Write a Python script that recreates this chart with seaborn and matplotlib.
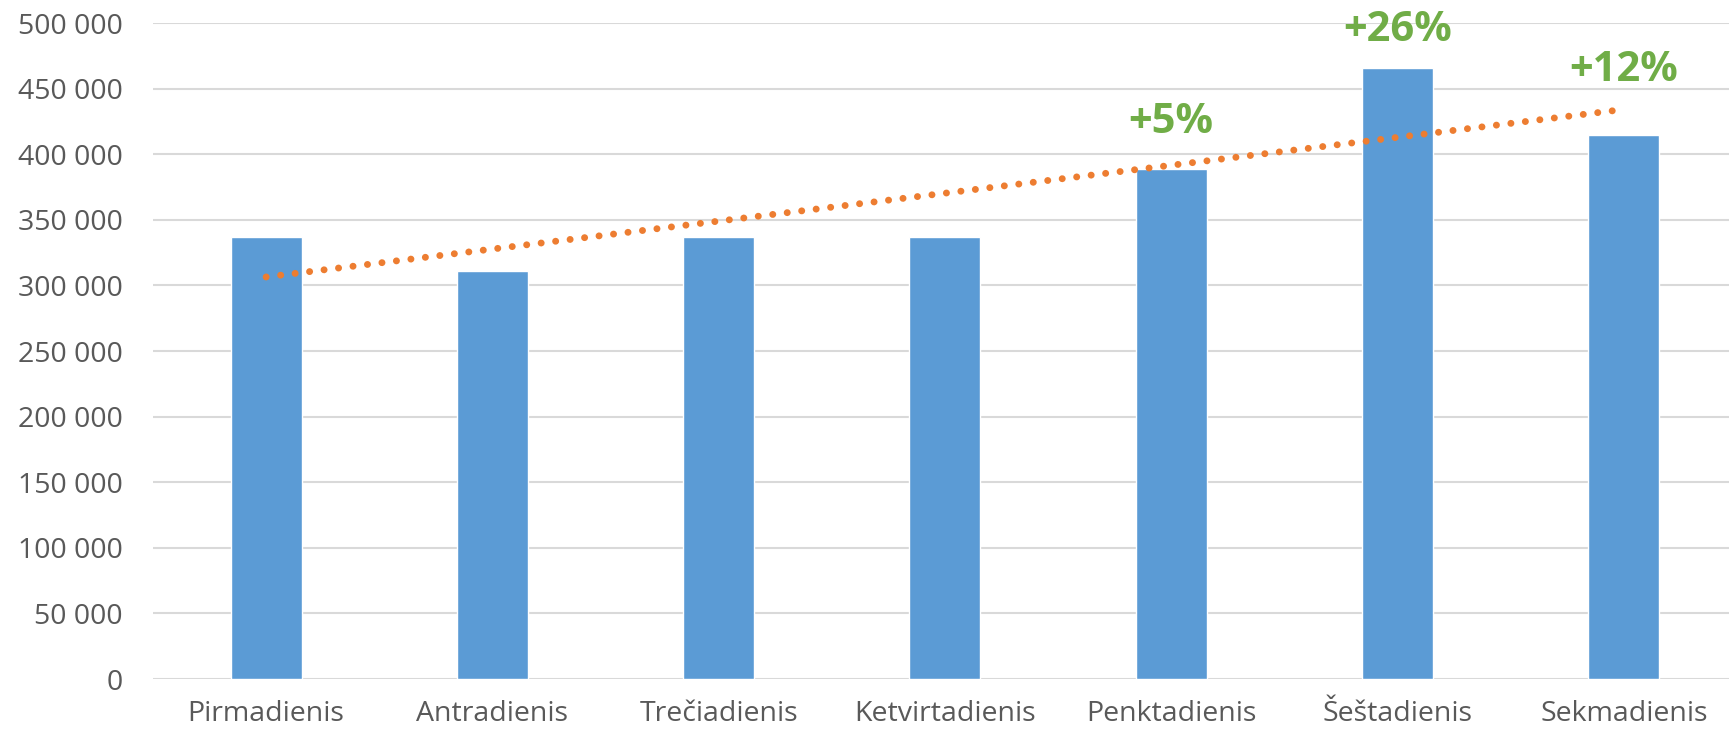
import numpy as np
import pandas as pd
import matplotlib
matplotlib.use("Agg")
import matplotlib.pyplot as plt
import seaborn as sns

days = ["Pirmadienis", "Antradienis", "Trečiadienis", "Ketvirtadienis",
        "Penktadienis", "Šeštadienis", "Sekmadienis"]
visits = [337000, 311000, 337000, 337000, 389000, 466000, 415000]
pct_days = ["Penktadienis", "Šeštadienis", "Sekmadienis"]
pct_labels = ["+5%", "+26%", "+12%"]
y_ticks = [0, 50000, 100000, 150000, 200000, 250000, 300000, 350000, 400000, 450000, 500000]

sns.set_theme(style="white")
plt.rcParams['font.family'] = ['Open Sans', 'DejaVu Sans']

df = pd.DataFrame({"day": days, "visits": visits})

fig = plt.figure(figsize=(17.29, 7.37), dpi=100)
ax = fig.add_axes([153/1729, 1 - 679/737, 1 - 153/1729, (679 - 23)/737])

sns.barplot(data=df, x="day", y="visits", color="#5B9BD5", width=0.314,
            saturation=1, ax=ax, zorder=2)

# linear trendline
xs = np.arange(len(days))
coef = np.polyfit(xs, visits, 1)
ax.plot(xs, np.polyval(coef, xs), color="#ED7D31", linewidth=5.0,
        linestyle=(0, (0.01, 2.09)), dash_capstyle="round", zorder=3)

ax.set_ylim(0, 500000)
ax.set_xlim(-0.5, 6.465)
ax.set_yticks(y_ticks)
ax.set_yticklabels([f"{v:,}".replace(",", " ") for v in y_ticks])
ax.yaxis.grid(True, color="#D9D9D9", linewidth=1.5, zorder=0)
ax.set_axisbelow(True)
for s in ax.spines.values():
    s.set_visible(False)
ax.set_xlabel("")
ax.set_ylabel("")
ax.tick_params(axis="y", length=0, pad=22, labelsize=20.5, labelcolor="#595959")
ax.tick_params(axis="x", length=0, pad=15, labelsize=20.5, labelcolor="#595959")

label_offsets = [27000, 20000, 41000]
for d, lab, off in zip(pct_days, pct_labels, label_offsets):
    i = days.index(d)
    ax.text(i, visits[i] + off, lab, ha="center", va="baseline",
            fontsize=30, fontweight="bold", color="#70AD47", clip_on=False)

fig.savefig("out.png", dpi=100)
